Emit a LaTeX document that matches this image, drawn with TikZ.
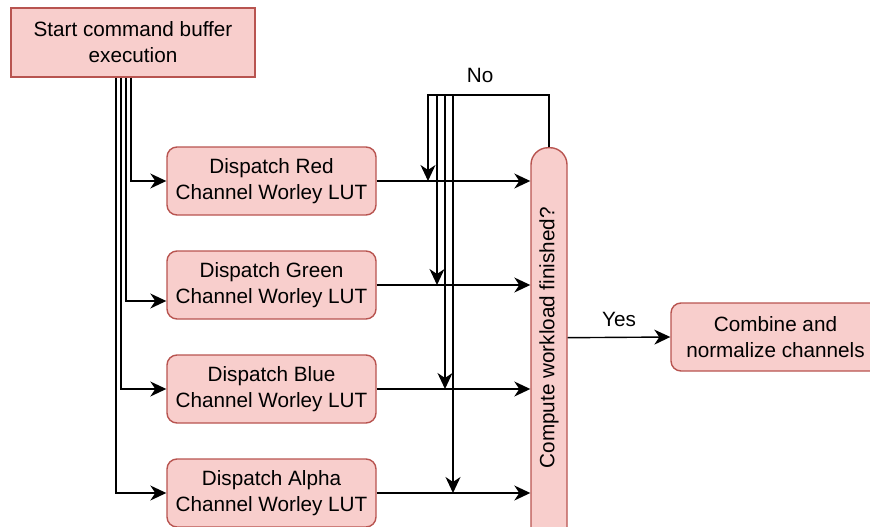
\documentclass[tikz,border=0pt]{standalone}
\usepackage{fontspec}
\setmainfont{Liberation Sans}
\usetikzlibrary{arrows.meta,positioning,calc}
\definecolor{boxfill}{HTML}{F8CECC}
\definecolor{boxline}{HTML}{B85450}
\begin{document}
\begin{tikzpicture}[x=1pt,y=-1pt,line width=1.4pt,font=\fontsize{20.7}{26}\selectfont,
  box/.style={draw=boxline,fill=boxfill,align=center,inner sep=0pt},
  stage/.style={box,rounded corners=10pt,minimum width=209pt,minimum height=68pt},
  flow/.style={-{Stealth[length=16pt,width=15pt,inset=5pt]}}]
\useasboundingbox (0,0) rectangle (870,527);
\node[box,minimum width=244pt,minimum height=69pt] (start) at (133,42.5) {Start command buffer\\execution};
\foreach \n/\c/\y in {red/Red/181,green/Green/285,blue/Blue/389,alpha/Alpha/493}
  \node[stage] (\n) at (271.5,\y) {Dispatch \c\\Channel Worley LUT};
\node[box,rounded corners=17pt,minimum width=36pt,minimum height=400pt,anchor=north] (check) at (549,147) {\rotatebox{90}{\hspace{20pt}Compute workload finished?}};
\node[stage] (combine) at (775.5,337) {Combine and\\normalize channels};
\foreach \n/\dx/\dy in {red/-2/0,green/-7/-16,blue/-12/0,alpha/-17/0}
  \draw[flow] ([xshift=\dx pt]start.south) |- ([yshift=\dy pt]\n.west);
\foreach \n in {red,green,blue,alpha}
  \draw[flow] (\n.east) -- (\n.east -| check.west);
\foreach \n/\x in {red/428,green/437,blue/445,alpha/453}
  \draw[flow] (check.north) |- (\x,95) -- (\x,95 |- \n.east);
\draw (check.north) |- (428,95) node[pos=0.785,above=12pt,inner sep=0pt]{No};
\draw[flow] ([yshift=10pt]check.east) -- (combine.west) node[midway,above=10pt,inner sep=0pt]{Yes};
\end{tikzpicture}
\end{document}
